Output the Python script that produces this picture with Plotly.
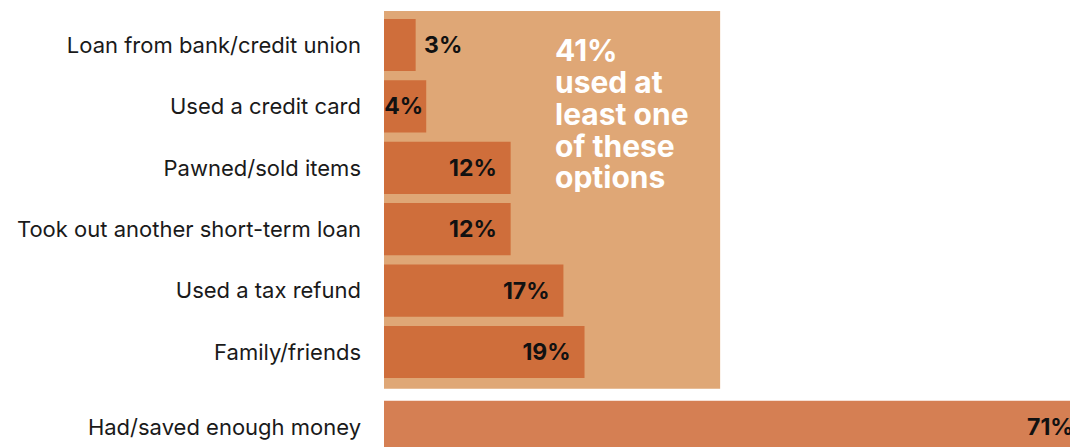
import plotly.graph_objects as go

categories = [
    "Loan from bank/credit union",
    "Used a credit card",
    "Pawned/sold items",
    "Took out another short-term loan",
    "Used a tax refund",
    "Family/friends",
    "Had/saved enough money",
]
values = [3, 4, 12, 12, 17, 19, 71]
y_positions = [0, 1, 2, 3, 4, 5, 6.22]
box_lines = ["41%", "used at", "least one", "of these", "options"]

FONT = "Inter, Liberation Sans, Arial, sans-serif"
BAR_DARK = "#CF6E3B"
BAR_LIGHT = "#D57F53"
BOX = "#DFA776"

main_vals = values[:6]
main_y = y_positions[:6]
pad = "\u00a0\u00a0"
texts = []
positions = []
for v in main_vals:
    if v <= 3:
        texts.append("\u00a0" + f"{v}%")
        positions.append("outside")
    elif v < 10:
        texts.append(f"{v}%")
        positions.append("inside")
    else:
        texts.append(f"{v}%" + pad)
        positions.append("inside")

fig = go.Figure()
fig.add_trace(go.Bar(
    x=main_vals, y=main_y, orientation="h", width=0.85,
    marker=dict(color=BAR_DARK, line=dict(width=0)),
    text=texts, textposition=positions, insidetextanchor="end",
    constraintext="none", textangle=0, cliponaxis=False,
    textfont=dict(family=FONT, size=23, color="#111111", weight="bold"),
    hoverinfo="skip",
))
fig.add_trace(go.Bar(
    x=[values[6]], y=[y_positions[6]], orientation="h", width=0.85,
    marker=dict(color=BAR_LIGHT, line=dict(width=0)),
    textposition="none", hoverinfo="skip",
))

# background box behind the six "options" bars
fig.add_shape(type="rect", xref="x", yref="y", x0=0, x1=31.85, y0=-0.554, y1=5.60,
              fillcolor=BOX, line=dict(width=0), layer="below")

# label for the long bar (its end is beyond the visible range)
fig.add_annotation(xref="paper", yref="y", x=1, y=y_positions[6], xanchor="right",
                   xshift=6, text=f"<b>{values[6]}%</b>", showarrow=False,
                   font=dict(family=FONT, size=23, color="#111111"))

# stacked callout text
line_y = [0.08, 0.6, 1.11, 1.63, 2.14]
for txt, ly in zip(box_lines, line_y):
    fig.add_annotation(xref="x", yref="y", x=16.0, y=ly, xanchor="left", yanchor="middle",
                       text=f"<b>{txt}</b>", showarrow=False, height=31, valign="middle",
                       font=dict(family=FONT, size=30, color="white"))

fig.update_layout(
    width=1070, height=447,
    margin=dict(l=384, r=0, t=0, b=0),
    paper_bgcolor="white", plot_bgcolor="white",
    showlegend=False, barmode="overlay",
    xaxis=dict(range=[0, 65], visible=False, fixedrange=True),
    yaxis=dict(range=[6.547, -0.733], tickvals=y_positions, ticktext=categories,
               showgrid=False, zeroline=False, showline=False, ticks="",
               ticklabelstandoff=22, fixedrange=True,
               tickfont=dict(family=FONT, size=22, color="#1a1a1a")),
)

fig.write_html("out.html", config={"displayModeBar": False},
               post_script="document.body.style.margin='0';document.body.style.overflow='hidden';")
